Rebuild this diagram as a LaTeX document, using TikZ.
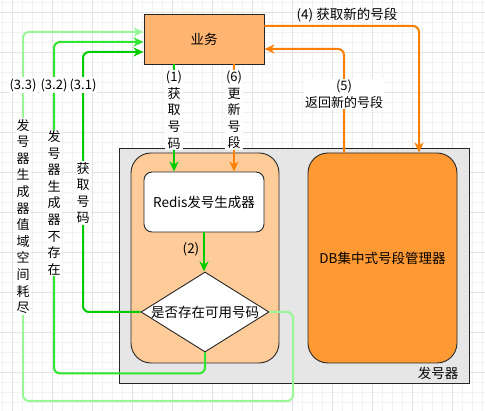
\documentclass[tikz,border=0pt]{standalone}
\usepackage{fontspec}
\setmainfont{Noto Sans CJK SC}
\usetikzlibrary{positioning, calc}
\usetikzlibrary{shapes.geometric}
\usetikzlibrary{arrows.meta}

\definecolor{cMinor}{HTML}{F2F2F2}
\definecolor{cMajor}{HTML}{E2E2E2}
\definecolor{cIssuer}{HTML}{E6E6E6}
\definecolor{cBiz}{HTML}{FFB570}
\definecolor{cGroup}{HTML}{FFCC99}
\definecolor{cDb}{HTML}{FF9933}
\definecolor{cGreen}{HTML}{00CC00}
\definecolor{cLime}{HTML}{2EE62E}
\definecolor{cPale}{HTML}{97F797}
\definecolor{cOrange}{HTML}{FF8000}

\tikzset{
    minorline/.style={cMinor, line width=0.6pt},
    majorline/.style={cMajor, line width=0.6pt},
    shapebox/.style={draw=black!85, line width=0.9pt, inner sep=0pt,
        font=\fontsize{13.5}{17}\selectfont},
    issuerbox/.style={shapebox, fill=cIssuer, minimum width=350pt, minimum height=235pt},
    groupbox/.style={shapebox, fill=cGroup, rounded corners=20pt, minimum width=148pt, minimum height=210pt},
    dbbox/.style={shapebox, fill=cDb, rounded corners=20pt, minimum width=149pt, minimum height=210pt},
    bizbox/.style={shapebox, fill=cBiz, minimum width=120pt, minimum height=50pt},
    redisbox/.style={shapebox, fill=white, rounded corners=8pt, minimum width=120pt, minimum height=60pt},
    checkshape/.style={shapebox, fill=white, diamond, minimum width=128pt, minimum height=80pt},
    plaintext/.style={inner sep=0pt, text=black, font=\fontsize{13.5}{17}\selectfont},
    vlabel/.style={fill=white, inner sep=1pt, align=center, font=\fontsize{13}{16.6}\selectfont},
    flow/.style={line width=2pt, rounded corners=6pt, -{Stealth[length=10pt, width=9pt, inset=3pt]}},
    flowgreen/.style={flow, cGreen},
    flowlime/.style={flow, cLime},
    flowpale/.style={flow, cPale},
    floworange/.style={flow, cOrange}
}

\begin{document}
\begin{tikzpicture}[x=1pt,y=-1pt]
    \useasboundingbox (0,0) rectangle (485,411);
    % grid
    \foreach \k in {0,...,48}{
        \draw[minorline] (2.7+10*\k,0) -- (2.7+10*\k,411);
    }
    \foreach \k in {0,...,41}{
        \draw[minorline] (0,2.3+10*\k) -- (485,2.3+10*\k);
    }
    \foreach \k in {0,...,11}{
        \draw[majorline] (12.7+40*\k,0) -- (12.7+40*\k,411);
    }
    \foreach \k in {0,...,10}{
        \draw[majorline] (0,12.3+40*\k) -- (485,12.3+40*\k);
    }

    % boxes
    \node[issuerbox] (issuer) at (294,265.5) {};
    \node[plaintext] (issuerlbl) at (438,373) {发号器};
    \node[groupbox] (group) at (205,258) {};
    \node[dbbox] (db) at (382.5,258) {DB集中式号段管理器};
    \node[bizbox] (biz) at (204,39) {业务};
    \node[redisbox] (redis) at (204,202) {Redis发号生成器};
    \node[checkshape] (check) at (205,312) {};
    \node[plaintext] (checklbl) at (check) {是否存在可用号码};

    % (1) and (6)
    \draw[flowgreen] ([xshift=-30pt]biz.south) -- ([xshift=-30pt]redis.north);
    \node[vlabel] (lbl1) at (174,110) {(1)\\获\\取\\号\\码};
    \draw[floworange] ([xshift=30pt]biz.south) -- ([xshift=30pt]redis.north);
    \node[vlabel] (lbl6) at (234,110) {(6)\\更\\新\\号\\段};

    % (2)
    \draw[flowgreen] (redis.south) -- (redis.south |- check.north);
    \node[plaintext] (lbl2) at (191,249) {(2)};

    % (3.x) back to biz
    \draw[flowgreen] (check.west) -| (83,52) -- ([yshift=-13pt]biz.west);
    \node[vlabel] (lbl31) at (83,85) {(3.1)};
    \node[vlabel] (txt31) at (83,193) {获\\取\\号\\码};
    \draw[flowlime] (check.south) -- ++(0,21) -| (54,42) -- ([yshift=-3pt]biz.west);
    \node[vlabel] (lbl32) at (54,85) {(3.2)};
    \node[vlabel] (txt32) at (54,203) {发\\号\\器\\生\\成\\器\\不\\存\\在};
    \draw[flowpale] (check.east) -| (293,401) -| (23,32) -- ([yshift=7pt]biz.west);
    \node[vlabel] (lbl33) at (23,85) {(3.3)};
    \node[vlabel] (txt33) at (23,216.5) {发\\号\\器\\生\\成\\器\\值\\域\\空\\间\\耗\\尽};

    % (4) and (5)
    \draw[floworange] ([yshift=13pt]biz.east) -| ([xshift=36.5pt]db.north);
    \node[plaintext] (lbl4) at (347,15) {(4) 获取新的号段};
    \draw[floworange] ([xshift=-38.5pt]db.north) |- ([yshift=-10pt]biz.east);
    \node[vlabel] (lbl5) at (344,94) {(5)\\返回新的号段};
\end{tikzpicture}
\end{document}
